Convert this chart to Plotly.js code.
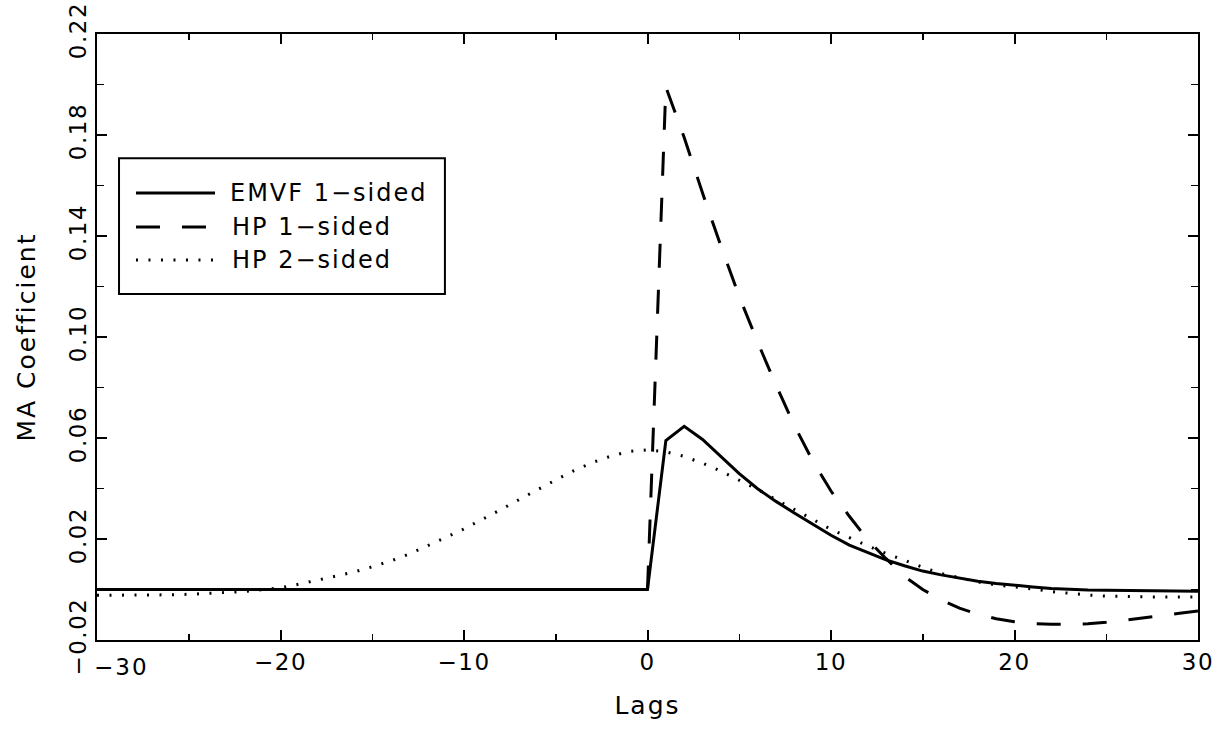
<!DOCTYPE html>
<html>
<head>
<meta charset="utf-8">
<script src="https://cdn.plot.ly/plotly-3.0.1.min.js"></script>
<style>
html,body{margin:0;padding:0;background:#fff;}
#chart{width:1222px;height:736px;}
#chart text{letter-spacing:2px;}
#chart .xtick text, #chart .ytick text{letter-spacing:1.5px;}
</style>
</head>
<body>
<div id="chart"></div>
<script>
// Lags
const lags = [-30,-29,-28,-27,-26,-25,-24,-23,-22,-21,-20,-19,-18,-17,-16,-15,-14,-13,-12,-11,
  -10,-9,-8,-7,-6,-5,-4,-3,-2,-1,0,1,2,3,4,5,6,7,8,9,10,11,12,13,14,15,16,17,18,19,20,
  21,22,23,24,25,26,27,28,29,30];
const lagsOneSided = [0,1,2,3,4,5,6,7,8,9,10,11,12,13,14,15,16,17,18,19,20,
  21,22,23,24,25,26,27,28,29,30];

// EMVF 1-sided MA coefficients (lags -30..30)
const emvf1 = [0,0,0,0,0,0,0,0,0,0,0,0,0,0,0,0,0,0,0,0,
  0,0,0,0,0,0,0,0,0,0,0,
  0.0590,0.0646,0.0594,0.0526,0.0459,0.0399,0.0349,0.0303,0.0258,0.0215,
  0.0176,0.0145,0.0117,0.0094,0.0073,0.0058,0.0044,0.0033,0.0024,0.0016,
  0.0010,0.0004,0.0000,-0.0002,-0.0003,-0.0004,-0.0005,-0.0005,-0.0006,-0.0007];

// HP 1-sided MA coefficients (lags 0..30)
const hp1 = [0,0.199,0.179,0.157,0.136,0.116,0.098,0.081,0.065,0.051,0.039,
  0.029,0.0197,0.0122,0.0052,0.0000,-0.0041,-0.0074,-0.0098,-0.0116,-0.0128,
  -0.0135,-0.0138,-0.0138,-0.0136,-0.0130,-0.0122,-0.0113,-0.0104,-0.0094,-0.0085];

// HP 2-sided MA coefficients (lags -30..30)
const hp2 = [-0.0023,-0.0023,-0.0022,-0.0022,-0.0021,-0.0019,-0.0016,-0.0012,-0.0008,-0.0001,
  0.0007,0.0021,0.0036,0.0052,0.0069,0.0090,0.0113,0.0140,0.0172,0.0206,
  0.0240,0.0277,0.0316,0.0356,0.0396,0.0434,0.0471,0.0503,0.0528,0.0547,0.0553,
  0.0545,0.0527,0.0500,0.0469,0.0434,0.0396,0.0356,0.0318,0.0278,0.0238,
  0.0205,0.0173,0.0143,0.0115,0.0088,0.0063,0.0045,0.0030,0.0018,0.0011,
  0.0002,-0.0008,-0.0016,-0.0022,-0.0026,-0.0028,-0.0029,-0.0030,-0.0030,-0.0030];

const seriesNames = ['EMVF 1\u2212sided','HP 1\u2212sided','HP 2\u2212sided'];

// x tick labels (first label is drawn shifted right, clear of the y labels)
const xTickVals = [-30,-20,-10,0,10,20,30];
const xTickText = ['\u221230','\u221220','\u221210','0','10','20','30'];

const FONT = 'DejaVu Sans, Liberation Sans, Arial, sans-serif';
const dashStyles = ['solid','24px,22px','2px,10.5px'];

const traces = [
  {x: lags, y: emvf1, name: seriesNames[0], mode:'lines', showlegend:false,
   line:{color:'#000', width:3, dash:dashStyles[0]}},
  {x: lagsOneSided, y: hp1, name: seriesNames[1], mode:'lines', showlegend:false,
   line:{color:'#000', width:3, dash:dashStyles[1]}},
  {x: lags, y: hp2, name: seriesNames[2], mode:'lines', showlegend:false,
   line:{color:'#000', width:3, dash:dashStyles[2]}}
];

// custom legend (paper coordinates)
const legX0 = 0.020, legX1 = 0.316, legY0 = 0.571, legY1 = 0.795;
const sampX0 = 0.0354, sampX1 = 0.1072, textX = 0.1300;
const rowY = [0.7376, 0.6815, 0.627];

const shapes = [
  {type:'rect', xref:'paper', yref:'paper', x0:legX0, x1:legX1, y0:legY0, y1:legY1,
   line:{color:'#000', width:2}, fillcolor:'rgba(0,0,0,0)'}
];
const annotations = [];
for (let i = 0; i < 3; i++) {
  shapes.push({type:'line', xref:'paper', yref:'paper', x0:sampX0, x1:sampX1, y0:rowY[i], y1:rowY[i],
    line:{color:'#000', width:3, dash:dashStyles[i]}});
  annotations.push({xref:'paper', yref:'paper', x:textX, y:rowY[i], xanchor:'left', yanchor:'middle',
    text:seriesNames[i], showarrow:false, font:{family:FONT, size:24, color:'#000'}});
}
// first x tick label, shifted to start at the axis corner
annotations.push({xref:'x', yref:'paper', x:xTickVals[0], y:0, xanchor:'left', yanchor:'top',
  xshift:-2, yshift:-12, text:xTickText[0], showarrow:false,
  font:{family:FONT, size:23, color:'#000'}});

const axisCommon = {
  showline:true, linecolor:'#000', linewidth:2, mirror:'ticks',
  ticks:'inside', ticklen:10, tickwidth:2, tickcolor:'#000',
  showgrid:false, zeroline:false,
  tickfont:{family:FONT, size:23, color:'#000'}
};

const layout = {
  width:1222, height:736,
  margin:{l:97, r:24, t:34, b:96},
  paper_bgcolor:'#fff', plot_bgcolor:'#fff',
  showlegend:false,
  xaxis: Object.assign({}, axisCommon, {
    range:[-30,30], tickmode:'array', tickvals:xTickVals,
    ticktext:[''].concat(xTickText.slice(1)),
    minor:{dtick:5, ticks:'inside', ticklen:6, tickwidth:1.5, tickcolor:'#000'},
    title:{text:'Lags', font:{family:FONT, size:25, color:'#000'}, standoff:23}
  }),
  yaxis: Object.assign({}, axisCommon, {
    range:[-0.02,0.22], tick0:-0.02, dtick:0.04, tickformat:'.2f', tickangle:-90,
    minor:{dtick:0.02, ticks:'inside', ticklen:7, tickwidth:1.5, tickcolor:'#000'},
    title:{text:'MA Coefficient', font:{family:FONT, size:25, color:'#000'}, standoff:22}
  }),
  shapes: shapes,
  annotations: annotations
};

Plotly.newPlot('chart', traces, layout, {displayModeBar:false, staticPlot:true});
</script>
</body>
</html>
